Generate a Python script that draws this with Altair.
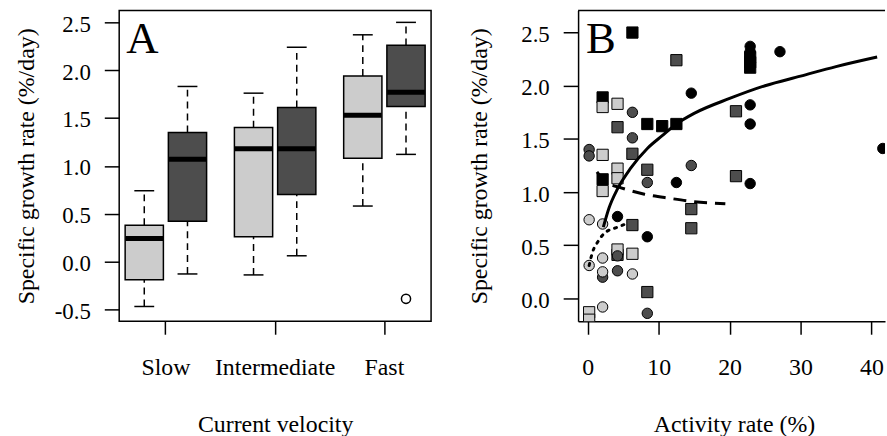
import altair as alt
import pandas as pd

FONT = "Liberation Serif"
LIGHT, DARK, BLACK = "#cccccc", "#4d4d4d", "#000000"

# ---------------- Panel A: box-plot summaries ----------------
velocity = ["Slow", "Slow", "Intermediate", "Intermediate", "Fast", "Fast"]
group = ["light", "dark", "light", "dark", "light", "dark"]
whisker_low = [-0.47, -0.13, -0.14, 0.06, 0.58, 1.12]
q1 = [-0.19, 0.42, 0.26, 0.70, 1.08, 1.62]
median = [0.24, 1.07, 1.18, 1.18, 1.53, 1.77]
q3 = [0.38, 1.35, 1.40, 1.61, 1.94, 2.26]
whisker_high = [0.74, 1.83, 1.76, 2.24, 2.37, 2.50]
outlier_velocity = ["Fast"]
outlier_group = ["dark"]
outlier_value = [-0.39]
velocity_order = ["Slow", "Intermediate", "Fast"]

# ---------------- Panel B: points ----------------
sq_x = [6.3, 2.1, 8.4, 10.5, 12.5, 2.1, 22.9, 22.9, 22.9,
        12.5, 4.2, 6.3, 8.4, 20.9, 20.9, 14.6, 14.6, 6.3, 4.2, 8.4,
        2.1, 4.2, 2.1, 4.2, 4.2, 2.1, 6.3, 4.2, 0.2, 0.2]
sq_y = [2.50, 1.89, 1.64, 1.62, 1.64, 1.12, 2.27, 2.22, 2.17,
        2.24, 1.61, 1.36, 1.21, 1.76, 1.15, 0.84, 0.66, 0.69, 0.41, 0.06,
        1.80, 1.83, 1.35, 1.22, 1.13, 1.01, 0.42, 0.46, -0.13, -0.20]
sq_v = ["Fast"] * 9 + ["Intermediate"] * 11 + ["Slow"] * 10

ci_x = [14.6, 27.1, 22.9, 22.9, 22.9, 22.9, 22.9, 12.5, 4.2, 8.4, 41.6,
        6.3, 6.3, 14.6, 8.4, 0.2, 0.2, 4.2, 4.2, 2.1, 8.4,
        0.2, 2.1, 0.2, 2.1, 2.1, 6.3, 2.1]
ci_y = [1.93, 2.32, 2.37, 2.32, 1.82, 1.64, 1.08, 1.09, 0.77, 0.58, 1.41,
        1.75, 1.51, 1.25, 1.09, 1.40, 1.34, 0.40, 0.26, 0.20, -0.14,
        0.74, 0.70, 0.31, 0.38, 0.25, 0.23, -0.08]
ci_v = ["Fast"] * 11 + ["Intermediate"] * 10 + ["Slow"] * 7

# fitted curves
fast_x = [2.2, 3.0, 4.2, 6.0, 8.4, 10.5, 12.5, 15.0, 20.0, 25.0, 30.0, 35.0, 40.8]
fast_y = [0.67, 0.85, 1.03, 1.22, 1.41, 1.53, 1.64, 1.74, 1.88, 2.00, 2.09, 2.18, 2.27]
inter_x = [1.3, 2.0, 3.0, 4.7, 8.0, 11.7, 15.0, 19.4]
inter_y = [1.19, 1.13, 1.08, 1.04, 0.98, 0.94, 0.91, 0.89]
slow_x = [0.2, 0.7, 1.4, 2.3, 4.2, 5.8]
slow_y = [0.31, 0.44, 0.53, 0.61, 0.67, 0.71]

W_A, H = 314, 313
W_B = 309

neg_fmt = "datum.value < 0 ? '-' + format(-datum.value, '.1f') : format(datum.value, '.1f')"

# ---------------- build panel A ----------------
box_df = pd.DataFrame(dict(velocity=velocity, group=group, lo=whisker_low,
                           q1=q1, med=median, q3=q3, hi=whisker_high))
out_df = pd.DataFrame(dict(velocity=outlier_velocity, group=outlier_group, val=outlier_value))

xA = alt.X("velocity:N", sort=velocity_order,
           scale=alt.Scale(domain=velocity_order, paddingInner=0.2545, paddingOuter=0.0545),
           axis=alt.Axis(title="Current velocity", labelAngle=0, tickSize=13,
                         labelPadding=22, domain=False, minExtent=57, maxExtent=57,
                         titlePadding=35, labelFontSize=24))
xoffA = alt.XOffset("group:N", sort=["light", "dark"],
                    scale=alt.Scale(domain=["light", "dark"], paddingInner=0.115, paddingOuter=0))
yscaleA = alt.Scale(domain=[-0.625, 2.625], nice=False, zero=False)
yaxisA = alt.Axis(title="Specific growth rate (%/day)", values=[-0.5, 0, 0.5, 1, 1.5, 2, 2.5],
                  labelExpr=neg_fmt, tickSize=15, labelPadding=14, domain=False,
                  minExtent=66, maxExtent=66, titlePadding=15, labelOffset=2)

baseA = alt.Chart(box_df)
boxes = baseA.mark_bar(stroke=BLACK, strokeWidth=1.5, opacity=1).encode(
    x=xA, xOffset=xoffA,
    y=alt.Y("q1:Q", scale=yscaleA, axis=yaxisA), y2="q3:Q",
    color=alt.Color("group:N", scale=alt.Scale(domain=["light", "dark"], range=[LIGHT, DARK]), legend=None),
)
wlow = baseA.mark_rule(color=BLACK, strokeWidth=1.5, strokeDash=[7, 5]).encode(
    x=xA, xOffset=xoffA, y=alt.Y("lo:Q", scale=yscaleA), y2="q1:Q")
whigh = baseA.mark_rule(color=BLACK, strokeWidth=1.5, strokeDash=[7, 5]).encode(
    x=xA, xOffset=xoffA, y=alt.Y("q3:Q", scale=yscaleA), y2="hi:Q")
cap_lo = baseA.mark_tick(color=BLACK, size=20, thickness=1.5, orient="horizontal", opacity=1).encode(
    x=xA, xOffset=xoffA, y=alt.Y("lo:Q", scale=yscaleA))
cap_hi = baseA.mark_tick(color=BLACK, size=20, thickness=1.5, orient="horizontal", opacity=1).encode(
    x=xA, xOffset=xoffA, y=alt.Y("hi:Q", scale=yscaleA))
med = baseA.mark_tick(color=BLACK, size=38, thickness=5, orient="horizontal", opacity=1).encode(
    x=xA, xOffset=xoffA, y=alt.Y("med:Q", scale=yscaleA))
outl = alt.Chart(out_df).mark_point(shape="circle", filled=False, size=85, stroke=BLACK,
                                    strokeWidth=1.5, opacity=1).encode(
    x=xA, xOffset=xoffA, y=alt.Y("val:Q", scale=yscaleA))
labA = alt.Chart(pd.DataFrame({"t": ["A"]})).mark_text(
    font=FONT, fontSize=45, align="left", baseline="alphabetic", color=BLACK).encode(
    text="t:N", x=alt.value(7), y=alt.value(43))

panelA = alt.layer(wlow, whigh, cap_lo, cap_hi, boxes, med, outl, labA).properties(
    width=W_A, height=H, view=alt.ViewBackground(stroke=BLACK, strokeWidth=1.5))

# ---------------- build panel B ----------------
sq_df = pd.DataFrame(dict(x=sq_x, y=sq_y, v=sq_v))
ci_df = pd.DataFrame(dict(x=ci_x, y=ci_y, v=ci_v))
xscaleB = alt.Scale(domain=[-1.358, 41.91], nice=False, zero=False)
yscaleB = alt.Scale(domain=[-0.215, 2.708], nice=False, zero=False)
xaxisB = alt.Axis(title="Activity rate (%)", values=[0, 10, 20, 30, 40], format="d",
                  tickSize=13, labelPadding=22, domain=True, minExtent=57, maxExtent=57,
                  titlePadding=35, titleX=157, labelFontSize=24)
yaxisB = alt.Axis(title="Specific growth rate (%/day)", values=[0, 0.5, 1, 1.5, 2, 2.5],
                  labelExpr=neg_fmt, tickSize=15, labelPadding=14, domain=True,
                  minExtent=60, maxExtent=60, titlePadding=27, labelOffset=2)
colB = alt.Color("v:N", scale=alt.Scale(domain=["Slow", "Intermediate", "Fast"],
                                        range=[LIGHT, DARK, BLACK]), legend=None)

squares = alt.Chart(sq_df).mark_square(size=128, stroke=BLACK, strokeWidth=1, opacity=1, clip=True).encode(
    x=alt.X("x:Q", scale=xscaleB, axis=xaxisB),
    y=alt.Y("y:Q", scale=yscaleB, axis=yaxisB),
    color=colB)
circles = alt.Chart(ci_df).mark_circle(size=110, stroke=BLACK, strokeWidth=1, opacity=1, clip=True).encode(
    x=alt.X("x:Q", scale=xscaleB), y=alt.Y("y:Q", scale=yscaleB), color=colB)

fast_line = alt.Chart(pd.DataFrame(dict(x=fast_x, y=fast_y))).mark_line(
    color=BLACK, strokeWidth=3, interpolate="monotone", clip=True).encode(
    x=alt.X("x:Q", scale=xscaleB), y=alt.Y("y:Q", scale=yscaleB))
inter_line = alt.Chart(pd.DataFrame(dict(x=inter_x, y=inter_y))).mark_line(
    color=BLACK, strokeWidth=3, strokeDash=[13, 8], interpolate="monotone", clip=True).encode(
    x=alt.X("x:Q", scale=xscaleB), y=alt.Y("y:Q", scale=yscaleB))
slow_line = alt.Chart(pd.DataFrame(dict(x=slow_x, y=slow_y))).mark_line(
    color=BLACK, strokeWidth=3, strokeDash=[2, 6], strokeCap="round", interpolate="monotone", clip=True).encode(
    x=alt.X("x:Q", scale=xscaleB), y=alt.Y("y:Q", scale=yscaleB))

top_border = alt.Chart(pd.DataFrame({"t": [0]})).mark_rule(color=BLACK, strokeWidth=1.5).encode(
    x=alt.value(0), x2=alt.value(W_B), y=alt.value(0))
labB = alt.Chart(pd.DataFrame({"t": ["B"]})).mark_text(
    font=FONT, fontSize=45, align="left", baseline="alphabetic", color=BLACK).encode(
    text="t:N", x=alt.value(8), y=alt.value(43))

panelB = alt.layer(squares, circles, fast_line, inter_line, slow_line, top_border, labB).properties(
    width=W_B, height=H, view=alt.ViewBackground(stroke="transparent"))

chart = alt.hconcat(panelA, panelB, spacing=35).resolve_scale(
    color="independent"
).properties(
    padding={"left": 14, "top": 7, "right": 0, "bottom": 0},
    background="white",
).configure_axis(
    labelFont=FONT, titleFont=FONT, labelFontSize=23, titleFontSize=24,
    labelColor=BLACK, titleColor=BLACK, titleFontWeight="normal",
    tickColor=BLACK, tickWidth=1.5, domainColor=BLACK, domainWidth=1.5, grid=False,
)

chart.save("out.html", embed_options={"renderer": "svg", "actions": False})
